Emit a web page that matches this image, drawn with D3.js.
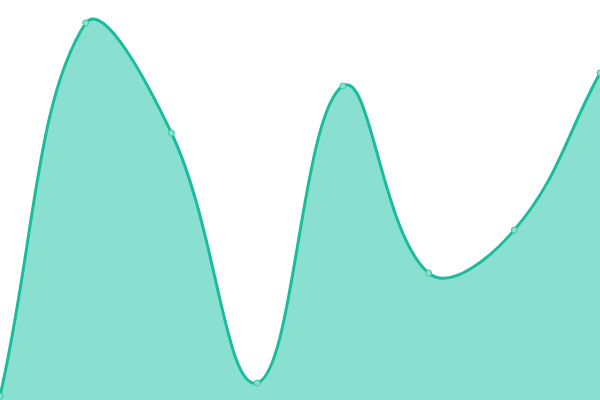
<!DOCTYPE html>
<html>
<head>
<meta charset="utf-8">
<script src="https://cdn.jsdelivr.net/npm/d3@7"></script>
<style>
  html, body { margin: 0; padding: 0; background: #fff; }
  svg { display: block; }
</style>
</head>
<body>
<div id="chart"></div>
<script>
// data
const categories = [0, 1, 2, 3, 4, 5, 6, 7];
const values = [4, 377, 267, 17, 314, 127, 170, 327];

const width = 600, height = 400;

const x = d3.scaleLinear()
    .domain([0, categories.length - 1])
    .range([0, width]);

const y = d3.scaleLinear()
    .domain([0, 400])
    .range([height, 0]);

const points = categories.map((c, i) => ({ c: c, v: values[i] }));

// distance weighted spline (tension 0.4), control points kept inside the box
function SplineCurve(context) { this._context = context; }
SplineCurve.prototype = {
    areaStart() {}, areaEnd() {},
    lineStart() { this._pts = []; },
    point(px, py) { this._pts.push([+px, +py]); },
    lineEnd() {
        const p = this._pts, n = p.length, t = 0.4, ctx = this._context;
        const clampX = v => Math.max(0, Math.min(width, v));
        const clampY = v => Math.max(0, Math.min(height, v));
        const cp = p.map((cur, i) => {
            const prev = p[Math.max(0, i - 1)], next = p[Math.min(n - 1, i + 1)];
            const d01 = Math.hypot(cur[0] - prev[0], cur[1] - prev[1]);
            const d12 = Math.hypot(next[0] - cur[0], next[1] - cur[1]);
            let s01 = d01 / (d01 + d12), s12 = d12 / (d01 + d12);
            if (isNaN(s01)) s01 = 0;
            if (isNaN(s12)) s12 = 0;
            const fa = t * s01, fb = t * s12;
            return {
                prev: [clampX(cur[0] - fa * (next[0] - prev[0])), clampY(cur[1] - fa * (next[1] - prev[1]))],
                next: [clampX(cur[0] + fb * (next[0] - prev[0])), clampY(cur[1] + fb * (next[1] - prev[1]))]
            };
        });
        ctx.moveTo(p[0][0], p[0][1]);
        for (let i = 1; i < n; i++) {
            ctx.bezierCurveTo(cp[i - 1].next[0], cp[i - 1].next[1],
                cp[i].prev[0], cp[i].prev[1], p[i][0], p[i][1]);
        }
    }
};
const curve = context => new SplineCurve(context);

const line = d3.line()
    .x(d => x(d.c))
    .y(d => y(d.v))
    .curve(curve);

const svg = d3.select("#chart")
    .append("svg")
    .attr("width", width)
    .attr("height", height);

// filled area down to the baseline
svg.append("path")
    .datum(points)
    .attr("d", d => line(d) +
        "L" + x(categories[categories.length - 1]) + "," + y(0) +
        "L" + x(categories[0]) + "," + y(0) + "Z")
    .style("fill", "#8ae0d0");

// line on top
svg.append("path")
    .datum(points)
    .attr("d", line)
    .style("fill", "none")
    .style("stroke", "#1abc9c")
    .style("stroke-width", 3);

// point markers
svg.selectAll("circle")
    .data(points)
    .enter()
    .append("circle")
    .attr("cx", d => x(d.c))
    .attr("cy", d => y(d.v))
    .attr("r", 3)
    .style("fill", "#8ae0d0")
    .style("stroke", "#3cc8a8")
    .style("stroke-width", 1);
</script>
</body>
</html>
